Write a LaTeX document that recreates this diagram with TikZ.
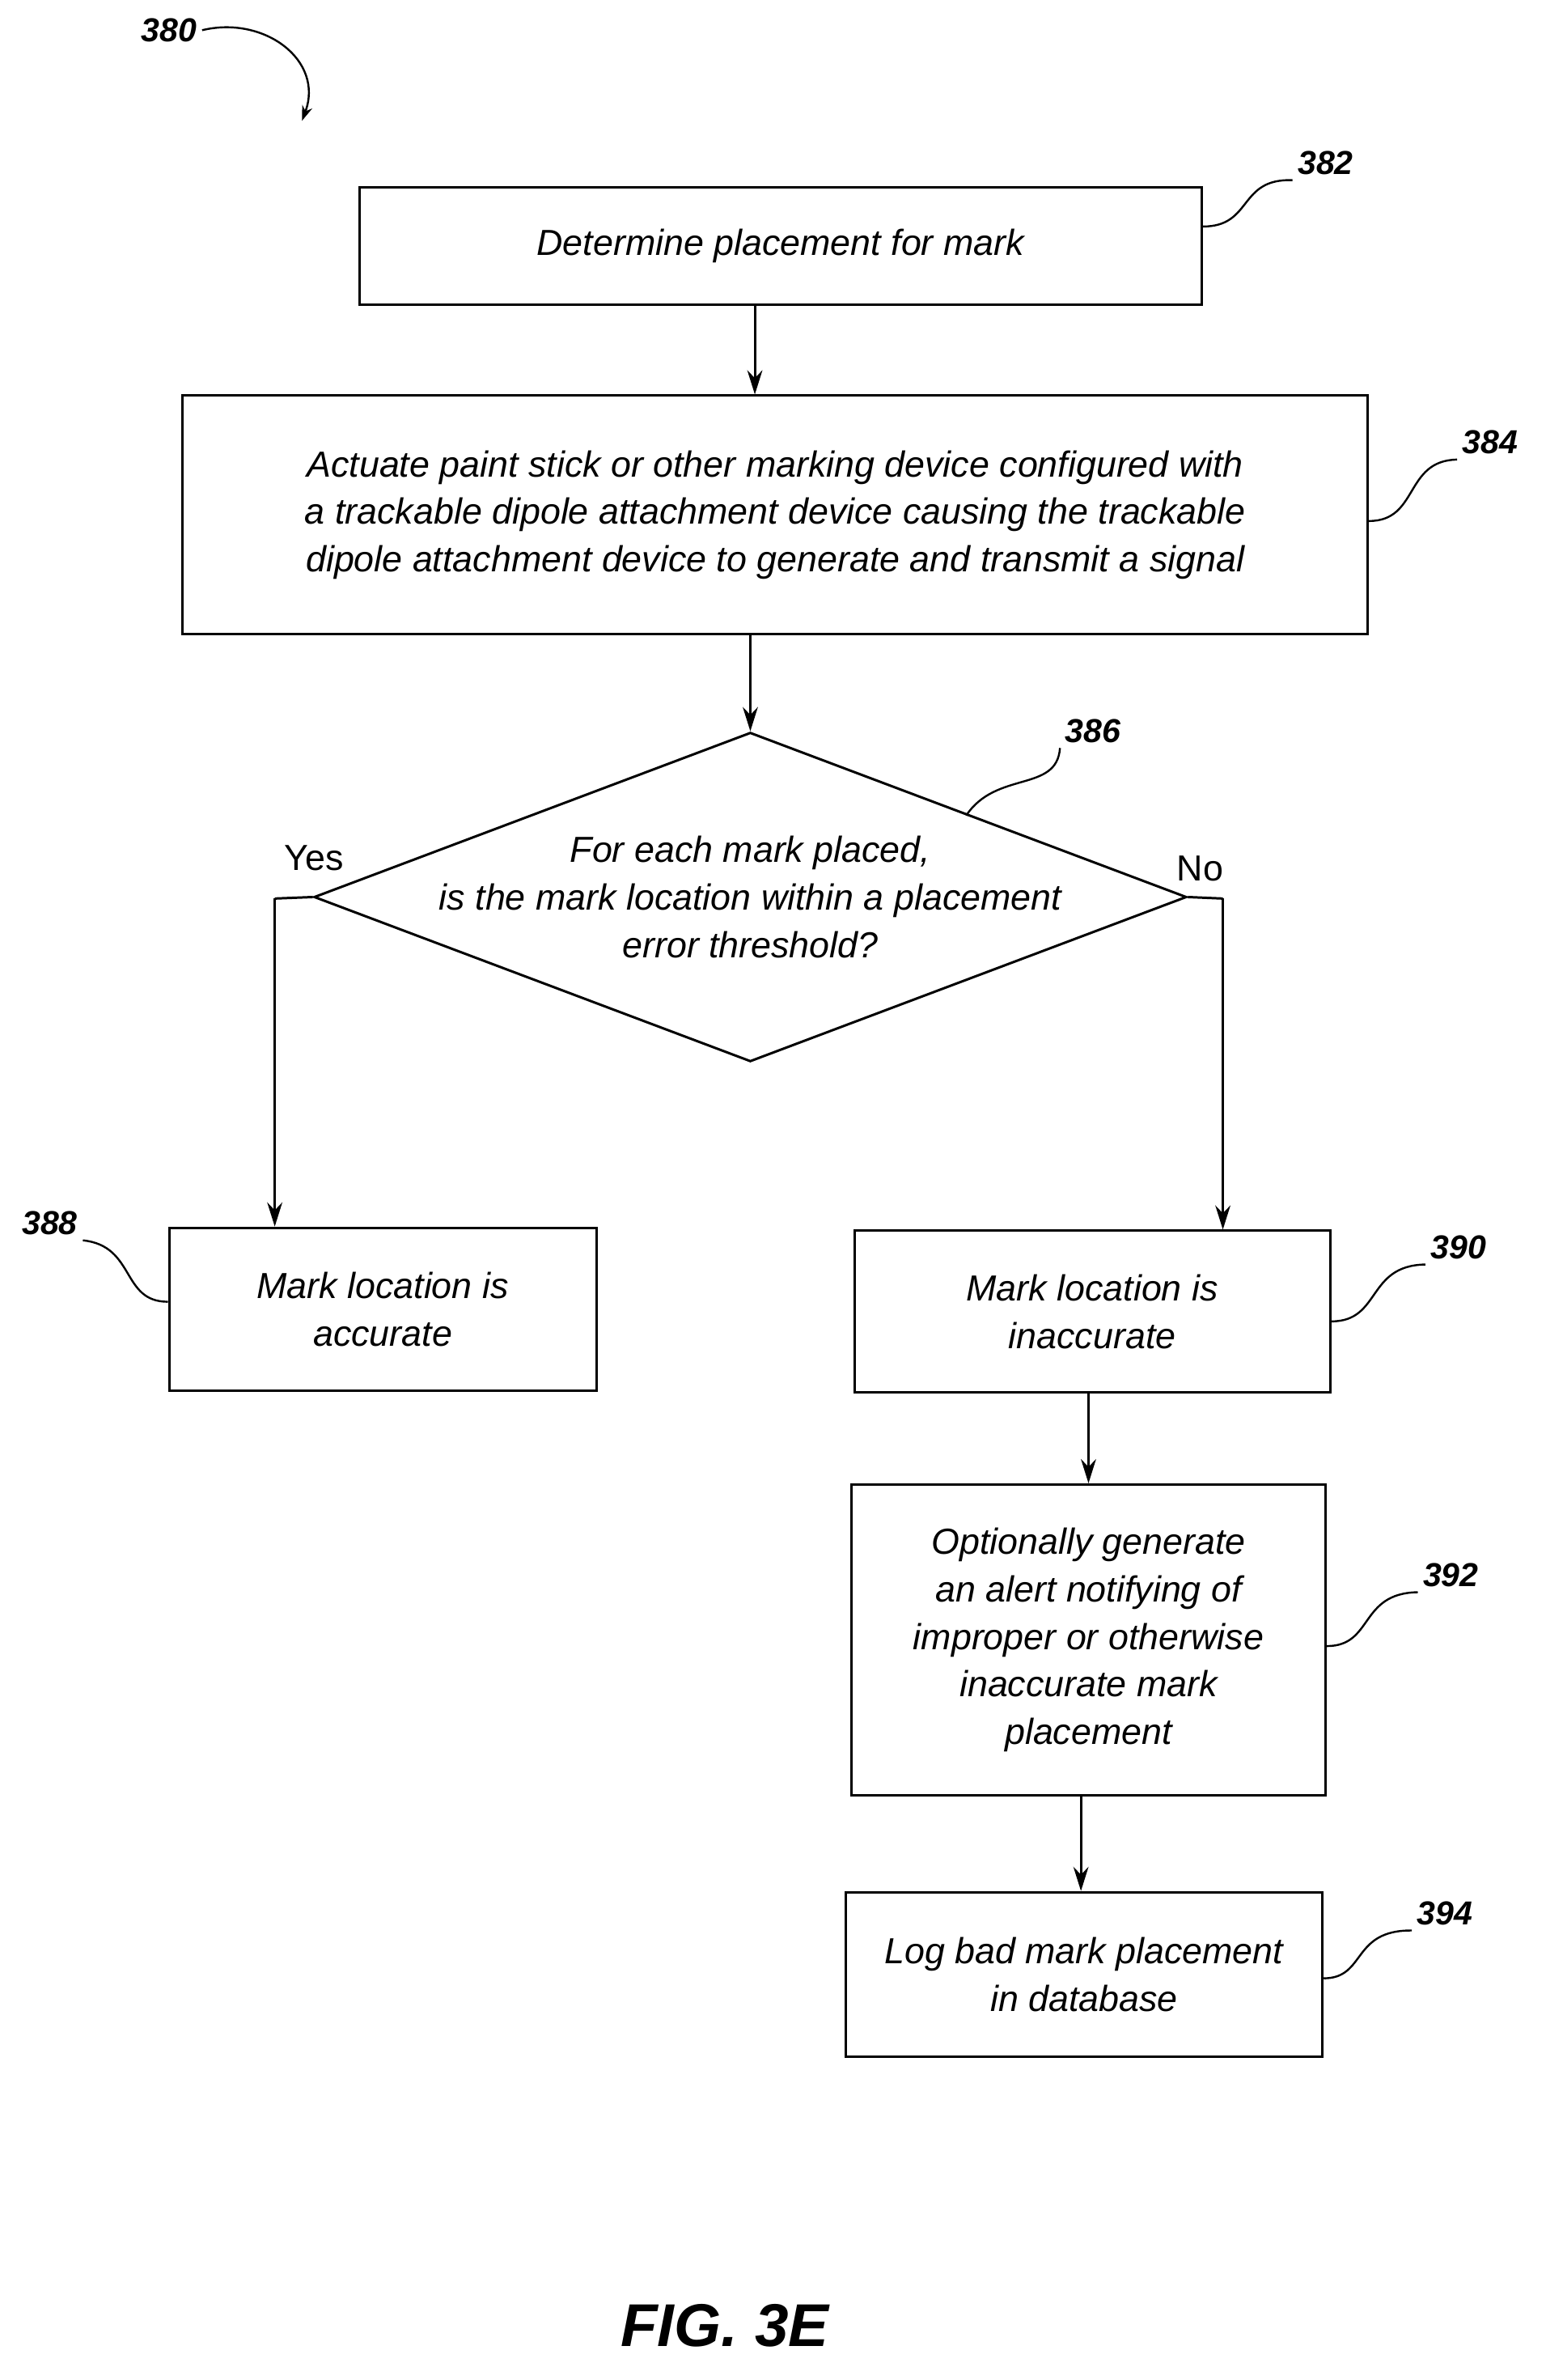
\documentclass[tikz,border=0pt]{standalone}
\usepackage{fontspec}
\setmainfont{Liberation Sans}
\usetikzlibrary{shapes.geometric,arrows.meta}
\tikzset{
  procbox/.style={draw,line width=1.6pt,inner sep=0pt,align=center,
    font=\fontsize{24}{31.5}\selectfont\itshape},
  flow/.style={line width=1.6pt,-{Stealth[length=16pt,width=10pt]}},
  ref/.style={font=\fontsize{22}{26}\selectfont\bfseries\itshape},
  lead/.style={line width=1.3pt},
}
\begin{document}
\begin{tikzpicture}[x=1pt,y=-1pt]
  \useasboundingbox (0,0) rectangle (1024,1576);

  %% boxes
  \node[procbox,minimum width=558pt,minimum height=78pt] (n382) at (517,163) {Determine placement for mark};
  \node[procbox,minimum width=785pt,minimum height=158pt] (n384) at (513.5,341)
    {Actuate paint stick or other marking device configured with\\
     a trackable dipole attachment device causing the trackable\\
     dipole attachment device to generate and transmit a signal};
  \node[draw,diamond,line width=1.6pt,inner sep=0pt,minimum width=578pt,minimum height=218pt] (dec) at (497,594) {};
  \node[procbox,draw=none] (dect) at (497,594)
    {For each mark placed,\\ is the mark location within a placement\\ error threshold?};
  \node[procbox,minimum width=283pt,minimum height=108pt] (n388) at (253.5,867) {Mark location is\\ accurate};
  \node[procbox,minimum width=315pt,minimum height=107pt] (n390) at (723.5,868.5) {Mark location is\\ inaccurate};
  \node[procbox,minimum width=314pt,minimum height=206pt] (n392) at (721,1086)
    {Optionally generate\\ an alert notifying of\\ improper or otherwise\\ inaccurate mark\\ placement};
  \node[procbox,minimum width=316pt,minimum height=109pt] (n394) at (718,1307.5) {Log bad mark placement\\ in database};

  %% connectors
  \coordinate (yesc) at (182,595);
  \coordinate (noc) at (810,595);
  \draw[flow] (n382.south -| 500,0) -- (n384.north -| 500,0);
  \draw[flow] (n384.south -| dec.north) -- (dec.north);
  \draw[line width=1.6pt] (dec.west) -- (yesc);
  \draw[flow] (yesc) -- (yesc |- n388.north);
  \draw[line width=1.6pt] (dec.east) -- (noc);
  \draw[flow] (noc) -- (noc |- n390.north);
  \draw[flow] (n390.south -| 721,0) -- (n392.north -| 721,0);
  \draw[flow] (n392.south -| 716,0) -- (n394.north -| 716,0);
  \node[font=\fontsize{24}{28}\selectfont] (yes) at (208,568) {Yes};
  \node[font=\fontsize{24}{28}\selectfont] (no) at (795,575) {No};

  %% reference numerals
  \node[ref] (r380) at (112,20) {380};
  \draw[lead,-{Stealth[length=10pt,width=7pt]}] (r380.east) .. controls (175,10) and (215,40) .. (200,80);
  \node[ref] (r382) at (878,108) {382};
  \draw[lead] (n382.east |- 0,150) .. controls (830,150) and (820,118) .. (r382.south west);
  \node[ref] (r384) at (987,293) {384};
  \draw[lead] (n384.east |- 0,345) .. controls (940,345) and (930,305) .. (r384.south west);
  \node[ref] (r386) at (724,484) {386};
  \draw[lead] (640,540) .. controls (660,510) and (700,525) .. (r386.south west);
  \node[ref] (r388) at (33,810) {388};
  \draw[lead] (n388.west |- 0,862) .. controls (80,862) and (90,825) .. (r388.south east);
  \node[ref] (r390) at (966,826) {390};
  \draw[lead] (n390.east |- 0,875) .. controls (915,875) and (905,838) .. (r390.south west);
  \node[ref] (r392) at (961,1043) {392};
  \draw[lead] (n392.east |- 0,1090) .. controls (910,1090) and (900,1055) .. (r392.south west);
  \node[ref] (r394) at (957,1267) {394};
  \draw[lead] (n394.east |- 0,1310) .. controls (905,1310) and (895,1278) .. (r394.south west);

  \node[font=\fontsize{40}{44}\selectfont\bfseries\itshape] (fig) at (480,1540) {FIG. 3E};
\end{tikzpicture}
\end{document}
